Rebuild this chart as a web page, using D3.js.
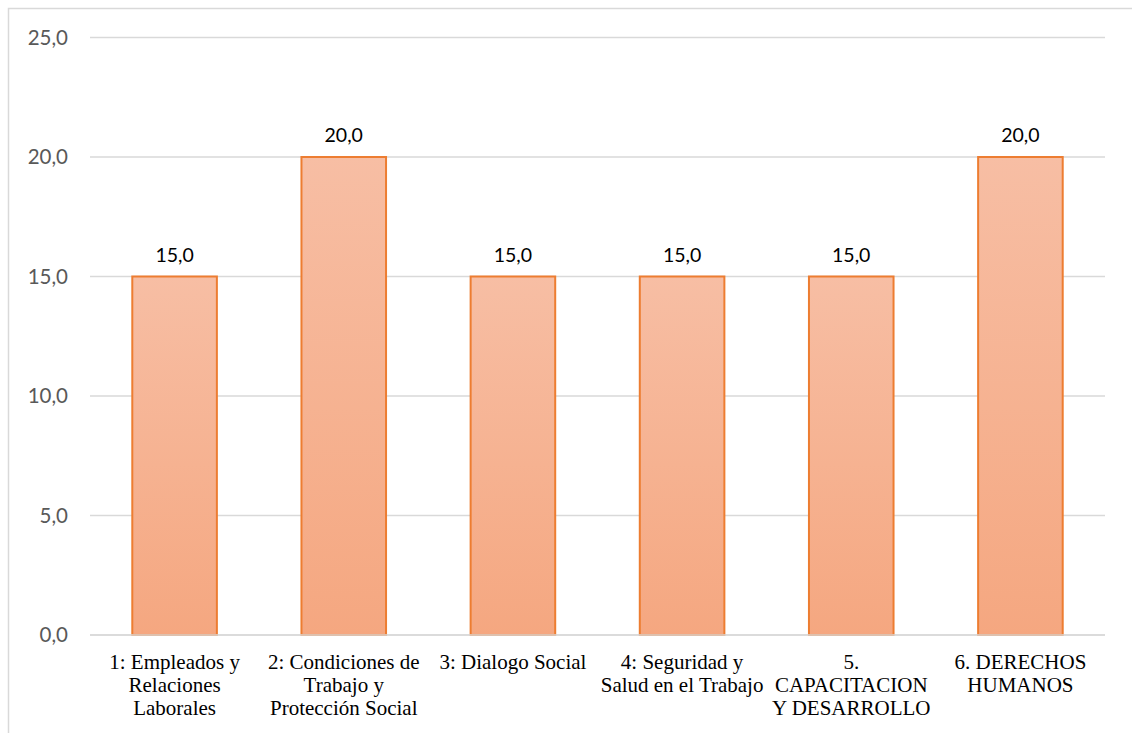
<!DOCTYPE html>
<html>
<head>
<meta charset="utf-8">
<script src="https://cdn.jsdelivr.net/npm/d3@7"></script>
<style>
  html, body { margin: 0; padding: 0; background: #fff; }
  svg { display: block; }
</style>
</head>
<body>
<script>
// Chart data
const categories = [
  ["1: Empleados y", "Relaciones", "Laborales"],
  ["2: Condiciones de", "Trabajo y", "Protección Social"],
  ["3: Dialogo Social"],
  ["4: Seguridad y", "Salud en el Trabajo"],
  ["5.", "CAPACITACION", "Y DESARROLLO"],
  ["6. DERECHOS", "HUMANOS"]
];
const values = [15, 20, 15, 15, 15, 20];
const yTicks = [0, 5, 10, 15, 20, 25];

const W = 1132, H = 733;
const fmt = v => v.toFixed(1).replace(".", ",");

const svg = d3.select("body").append("svg")
  .attr("width", W).attr("height", H);

// Outer chart frame
svg.append("rect")
  .attr("x", 8.5).attr("y", 8.5)
  .attr("width", W + 10).attr("height", H + 10)
  .attr("fill", "#fff").attr("stroke", "#d9d9d9").attr("stroke-width", 1.5);

const defs = svg.append("defs");
const grad = defs.append("linearGradient")
  .attr("id", "barFill").attr("x1", 0).attr("y1", 0).attr("x2", 0).attr("y2", 1);
grad.append("stop").attr("offset", "0%").attr("stop-color", "#f7bea4");
grad.append("stop").attr("offset", "100%").attr("stop-color", "#f5a780");

const x = d3.scaleBand()
  .domain(d3.range(categories.length))
  .range([90, 1105])
  .paddingInner(0.5)
  .paddingOuter(0.25);

const y = d3.scaleLinear().domain([0, 25]).range([635, 37.5]);

// Horizontal gridlines
svg.append("g").selectAll("line")
  .data(yTicks)
  .join("line")
  .attr("x1", 90).attr("x2", 1105)
  .attr("y1", d => y(d)).attr("y2", d => y(d))
  .attr("stroke", "#d9d9d9").attr("stroke-width", 1.5);

// Y axis tick labels
svg.append("g").selectAll("text")
  .data(yTicks)
  .join("text")
  .attr("x", 68).attr("y", d => y(d))
  .attr("dy", "0.35em")
  .attr("text-anchor", "end")
  .attr("font-family", "Lato, 'Open Sans', sans-serif")
  .attr("font-size", 20.5)
  .attr("fill", "#595959")
  .text(fmt);

// Bars
svg.append("g").selectAll("rect")
  .data(values)
  .join("rect")
  .attr("x", (d, i) => x(i))
  .attr("y", d => y(d))
  .attr("width", x.bandwidth())
  .attr("height", d => y(0) - y(d))
  .attr("fill", "url(#barFill)")
  .attr("stroke", "#ed7d31")
  .attr("stroke-width", 2);

// Redraw the baseline over the bar bottoms
svg.append("line")
  .attr("x1", 90).attr("x2", 1105)
  .attr("y1", y(0)).attr("y2", y(0))
  .attr("stroke", "#d9d9d9").attr("stroke-width", 1.5);

// Value labels
svg.append("g").selectAll("text")
  .data(values)
  .join("text")
  .attr("x", (d, i) => x(i) + x.bandwidth() / 2)
  .attr("y", d => y(d) - 15)
  .attr("text-anchor", "middle")
  .attr("font-family", "Lato, 'Open Sans', sans-serif")
  .attr("font-size", 19.5)
  .attr("fill", "#000")
  .text(fmt);

// Category labels
const cat = svg.append("g").selectAll("text")
  .data(categories)
  .join("text")
  .attr("x", (d, i) => x(i) + x.bandwidth() / 2)
  .attr("y", 669)
  .attr("text-anchor", "middle")
  .attr("font-family", "'Liberation Serif', 'Times New Roman', serif")
  .attr("font-size", 21)
  .attr("fill", "#000");
cat.selectAll("tspan")
  .data(d => d)
  .join("tspan")
  .attr("x", function() { return this.parentNode.getAttribute("x"); })
  .attr("dy", (d, i) => i === 0 ? 0 : 23)
  .text(d => d);
</script>
</body>
</html>
